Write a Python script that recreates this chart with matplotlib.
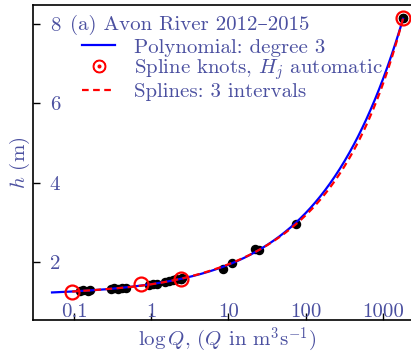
import numpy as np
import matplotlib
matplotlib.use("Agg")
import matplotlib.pyplot as plt
from matplotlib.lines import Line2D
from matplotlib.ticker import FixedLocator, FixedFormatter, NullLocator

plt.rcParams['font.family'] = ['cmr10', 'DejaVu Serif']
plt.rcParams['mathtext.fontset'] = 'cm'
plt.rcParams['axes.formatter.use_mathtext'] = True
plt.rcParams['axes.unicode_minus'] = False

TXT = '#4b50a0'
FS = 15

# gauged flows and stages, Avon River 2012-2015
flow = [0.12, 0.13, 0.15, 0.16, 0.30, 0.33, 0.37, 0.42, 0.47,
        0.95, 1.05, 1.2, 1.5, 1.7, 1.9, 2.1, 2.4, 2.5,
        8.5, 11.0, 22.0, 25.0, 74.0, 1820.0]
stage = [1.27, 1.29, 1.28, 1.29, 1.32, 1.34, 1.33, 1.35, 1.35,
         1.42, 1.44, 1.45, 1.50, 1.53, 1.55, 1.57, 1.58, 1.60,
         1.82, 1.97, 2.32, 2.30, 2.95, 8.14]

# spline knots: flows and stages H_j
knot_q = [0.095, 0.74, 2.4, 1820.0]
knot_h = [1.25, 1.44, 1.57, 8.14]

# stage of zero flow used in the log transform
h0 = 1.15

lq = np.log10(np.r_[flow, knot_q])
lh = np.log10(np.r_[stage, knot_h] - h0)

# degree 3 polynomial in log space
poly = np.polyfit(lq, lh, 3)

# least-squares cubic spline, interior knots at the 2nd and 3rd knot
kin = np.log10(knot_q[1:-1])


def basis(t):
    cols = [np.ones_like(t), t, t**2, t**3]
    cols += [np.clip(t - k, 0, None)**3 for k in kin]
    return np.column_stack(cols)


coef, *_ = np.linalg.lstsq(basis(lq), lh, rcond=None)

fig = plt.figure(figsize=(4.11, 3.54), dpi=100)
ax = fig.add_axes([33 / 411, 34 / 354, 389 / 411, 315 / 354])

tp = np.linspace(np.log10(0.052), np.log10(knot_q[-1]), 500)
ts = np.linspace(np.log10(knot_q[0]), np.log10(knot_q[-1]), 500)

ax.plot(flow, stage, 'o', color='k', ms=5.8, zorder=2)
ax.plot(knot_q[2:], knot_h[2:], 'o', color='k', ms=5.8, zorder=2)
ax.plot(10**tp, h0 + 10**np.polyval(poly, tp), color='#0000ff', lw=1.6,
        zorder=3)
ax.plot(10**ts, h0 + 10**(basis(ts) @ coef), '--', color='#ff0000', lw=1.6,
        dashes=(3, 2), zorder=4)
ax.plot(knot_q, knot_h, 'o', mfc='none', mec='#ff0000', ms=10, mew=1.6, zorder=5)

ax.set_xscale('log')
ax.set_xlim(0.0295, 3200)
ax.set_ylim(0.54, 8.48)

ax.xaxis.set_major_locator(FixedLocator([0.1, 1, 10, 100, 1000]))
ax.xaxis.set_major_formatter(FixedFormatter(['0.1', '1', '10', '100', '1000']))
ax.xaxis.set_minor_locator(NullLocator())
ax.set_yticks([2, 4, 6, 8])
ax.set_yticklabels(['2', '4', '6', '8'])

ax.tick_params(axis='both', direction='in', length=5, width=1, labelsize=FS,
               labelcolor=TXT)
ax.tick_params(axis='y', pad=-12)
ax.tick_params(axis='x', pad=-12)
for lab in ax.get_yticklabels():
    lab.set_horizontalalignment('left')
for s in ax.spines.values():
    s.set_linewidth(1.2)

ax.set_xlabel(r'$\log Q$, ($Q$ in m$^3$s$^{-1}$)', color=TXT, fontsize=FS,
              labelpad=3)
ax.set_ylabel(r'$h$ (m)', color=TXT, fontsize=FS, labelpad=1)

ax.text(0.095, 0.937, '(a) Avon River 2012–2015', transform=ax.transAxes,
        color=TXT, fontsize=FS, va='center', ha='left')

handles = [
    Line2D([], [], color='#0000ff', lw=1.6),
    Line2D([], [], ls='none', marker=r'$\odot$', color='#ff0000', ms=9),
    Line2D([], [], color='#ff0000', lw=1.6, ls='--', dashes=(3, 2)),
]
labels = ['Polynomial: degree 3', r'Spline knots, $H_j$ automatic',
          'Splines: 3 intervals']
ax.legend(handles, labels, loc='upper left', bbox_to_anchor=(0.126, 0.895),
          frameon=False, fontsize=FS, labelcolor=TXT, borderpad=0,
          borderaxespad=0, handlelength=1.6, handletextpad=0.9,
          labelspacing=0.02)

fig.savefig('out.png', dpi=100)
